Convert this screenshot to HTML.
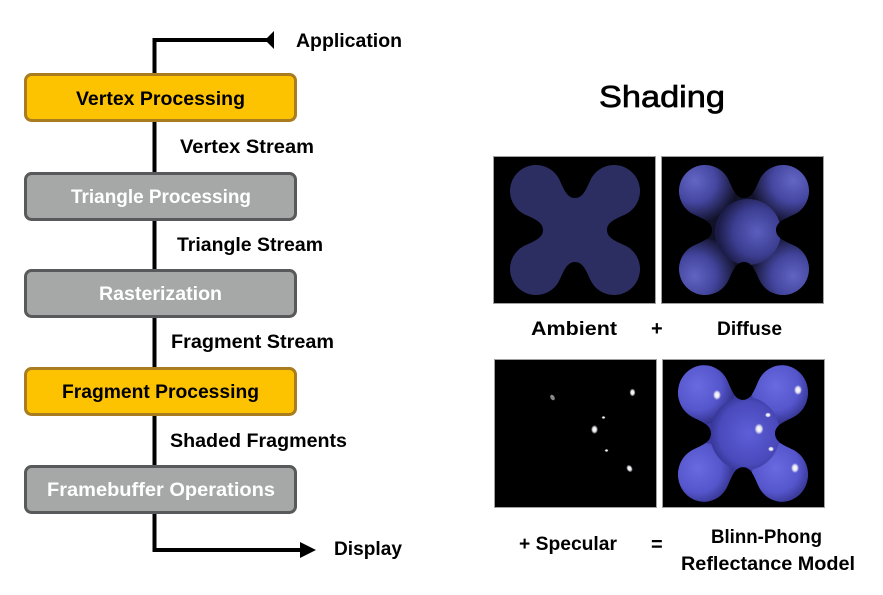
<!DOCTYPE html>
<html>
<head>
<meta charset="utf-8">
<style>
html,body{margin:0;padding:0;background:#fff;}
svg{display:block;}
text{font-family:"Liberation Sans",sans-serif;font-weight:bold;}
</style>
</head>
<body>
<svg width="883" height="595" viewBox="0 0 883 595" xmlns="http://www.w3.org/2000/svg">
<defs>
  <path id="blobp" d="M0,-32 C-8,-32 -11.2,-40.8 -15.4,-49.9 A26,26 0 1 0 -49.9,-15.4 C-40.8,-11.2 -32,-8 -32,0 C-32,8 -40.8,11.2 -49.9,15.4 A26,26 0 1 0 -15.4,49.9 C-11.2,40.8 -8,32 0,32 C8,32 11.2,40.8 15.4,49.9 A26,26 0 1 0 49.9,15.4 C40.8,11.2 32,8 32,0 C32,-8 40.8,-11.2 49.9,-15.4 A26,26 0 1 0 15.4,-49.9 C11.2,-40.8 8,-32 0,-32 Z"/>
  <clipPath id="blobclip"><use href="#blobp"/></clipPath>
  <radialGradient id="dlobeTL" cx="0.33" cy="0.33" r="0.72">
    <stop offset="0" stop-color="#6366c4"/><stop offset="0.5" stop-color="#4446a0"/><stop offset="1" stop-color="#111128"/>
  </radialGradient>
  <radialGradient id="dlobeTR" cx="0.67" cy="0.33" r="0.72">
    <stop offset="0" stop-color="#6366c4"/><stop offset="0.5" stop-color="#4446a0"/><stop offset="1" stop-color="#111128"/>
  </radialGradient>
  <radialGradient id="dlobeBL" cx="0.33" cy="0.62" r="0.72">
    <stop offset="0" stop-color="#6164c2"/><stop offset="0.5" stop-color="#42449c"/><stop offset="1" stop-color="#111128"/>
  </radialGradient>
  <radialGradient id="dlobeBR" cx="0.67" cy="0.62" r="0.72">
    <stop offset="0" stop-color="#6164c2"/><stop offset="0.5" stop-color="#42449c"/><stop offset="1" stop-color="#111128"/>
  </radialGradient>
  <radialGradient id="dcenter" cx="0.64" cy="0.5" r="0.6">
    <stop offset="0" stop-color="#5b5ebd"/><stop offset="0.6" stop-color="#3c3e92"/><stop offset="1" stop-color="#1c1c48"/>
  </radialGradient>
  <radialGradient id="blobe" cx="0.4" cy="0.4" r="0.65">
    <stop offset="0" stop-color="#6a6ae0"/><stop offset="0.6" stop-color="#5555cc"/><stop offset="1" stop-color="#2c2c80"/>
  </radialGradient>
  <radialGradient id="bcenter" cx="0.55" cy="0.5" r="0.6">
    <stop offset="0" stop-color="#5e5ed8"/><stop offset="0.7" stop-color="#4a4abc"/><stop offset="1" stop-color="#2e2e88"/>
  </radialGradient>
  <radialGradient id="spec" cx="0.5" cy="0.5" r="0.5">
    <stop offset="0" stop-color="#ffffff"/><stop offset="0.5" stop-color="#e8e8f0"/><stop offset="1" stop-color="#ffffff" stop-opacity="0"/>
  </radialGradient>
</defs>

<!-- Pipeline connectors -->
<line x1="154.5" y1="38" x2="154.5" y2="552" stroke="#000" stroke-width="4"/>
<line x1="152.5" y1="40" x2="268" y2="40" stroke="#000" stroke-width="4"/>
<polygon points="265,40 274,31 274,49" fill="#000"/>
<line x1="152.5" y1="550" x2="302" y2="550" stroke="#000" stroke-width="4"/>
<polygon points="316,550 300,542 300,558" fill="#000"/>

<!-- Boxes -->
<rect x="25.5" y="74.5" width="270" height="46" rx="6" fill="#fdc300" stroke="#a97d1f" stroke-width="3"/>
<rect x="25.5" y="173.5" width="270" height="46" rx="6" fill="#a6a8a7" stroke="#58595b" stroke-width="3"/>
<rect x="25.5" y="270.5" width="270" height="46" rx="6" fill="#a6a8a7" stroke="#58595b" stroke-width="3"/>
<rect x="25.5" y="368.5" width="270" height="46" rx="6" fill="#fdc300" stroke="#a97d1f" stroke-width="3"/>
<rect x="25.5" y="466.5" width="270" height="46" rx="6" fill="#a6a8a7" stroke="#58595b" stroke-width="3"/>

<g font-size="19">
  <text x="76" y="105" textLength="169" lengthAdjust="spacingAndGlyphs" fill="#000">Vertex Processing</text>
  <text x="71" y="203" textLength="180" lengthAdjust="spacingAndGlyphs" fill="#fff">Triangle Processing</text>
  <text x="99" y="300" textLength="123" lengthAdjust="spacingAndGlyphs" fill="#fff">Rasterization</text>
  <text x="62" y="398" textLength="197" lengthAdjust="spacingAndGlyphs" fill="#000">Fragment Processing</text>
  <text x="47" y="496" textLength="228" lengthAdjust="spacingAndGlyphs" fill="#fff">Framebuffer Operations</text>

  <text x="296" y="47" textLength="106" lengthAdjust="spacingAndGlyphs">Application</text>
  <text x="180" y="153" textLength="134" lengthAdjust="spacingAndGlyphs">Vertex Stream</text>
  <text x="177" y="251" textLength="146" lengthAdjust="spacingAndGlyphs">Triangle Stream</text>
  <text x="171" y="348" textLength="163" lengthAdjust="spacingAndGlyphs">Fragment Stream</text>
  <text x="170" y="447" textLength="177" lengthAdjust="spacingAndGlyphs">Shaded Fragments</text>
  <text x="334" y="555" textLength="68" lengthAdjust="spacingAndGlyphs">Display</text>
</g>

<!-- Shading title -->
<text x="599" y="107" font-size="31" style="font-weight:normal" textLength="126" lengthAdjust="spacingAndGlyphs" fill="#000" stroke="#000" stroke-width="0.7">Shading</text>

<!-- Image frames -->
<rect x="493.5" y="156.5" width="162" height="147" fill="#000" stroke="#a0a0a0" stroke-width="1"/>
<rect x="661.5" y="156.5" width="162" height="147" fill="#000" stroke="#a0a0a0" stroke-width="1"/>
<rect x="494.5" y="359.5" width="162" height="148" fill="#000" stroke="#a0a0a0" stroke-width="1"/>
<rect x="662.5" y="359.5" width="162" height="148" fill="#000" stroke="#a0a0a0" stroke-width="1"/>

<!-- Ambient -->
<g transform="translate(575,230)">
  <use href="#blobp" fill="#2c2d60"/>
</g>

<!-- Diffuse -->
<g transform="translate(744,230)">
  <g clip-path="url(#blobclip)">
    <use href="#blobp" fill="#111128"/>
    <circle cx="-39" cy="-39" r="30" fill="url(#dlobeTL)"/>
    <circle cx="39" cy="-39" r="30" fill="url(#dlobeTR)"/>
    <circle cx="-39" cy="39" r="30" fill="url(#dlobeBL)"/>
    <circle cx="39" cy="39" r="30" fill="url(#dlobeBR)"/>
    <circle cx="4" cy="2" r="33" fill="url(#dcenter)"/>
  </g>
</g>

<!-- Specular -->
<g transform="translate(575.5,433.5)">
  <ellipse cx="-23" cy="-36" rx="2" ry="3" fill="#888" transform="rotate(-30 -23 -36)"/>
  <ellipse cx="57" cy="-41" rx="3" ry="4" fill="url(#spec)"/>
  <ellipse cx="28" cy="-16" rx="2" ry="1.5" fill="url(#spec)"/>
  <ellipse cx="19" cy="-4" rx="3.5" ry="4.5" fill="url(#spec)"/>
  <ellipse cx="31" cy="17" rx="2" ry="1.5" fill="url(#spec)"/>
  <ellipse cx="54" cy="35" rx="3" ry="4" fill="url(#spec)" transform="rotate(-30 54 35)"/>
</g>

<!-- Blinn-Phong -->
<g transform="translate(743,433.5) scale(1,1.05)">
  <g clip-path="url(#blobclip)">
    <use href="#blobp" fill="#3a3aa4"/>
    <circle cx="-39" cy="-39" r="30" fill="url(#blobe)"/>
    <circle cx="39" cy="-39" r="30" fill="url(#blobe)"/>
    <circle cx="-39" cy="39" r="30" fill="url(#blobe)"/>
    <circle cx="39" cy="39" r="30" fill="url(#blobe)"/>
    <circle cx="2" cy="0" r="35" fill="url(#bcenter)"/>
  </g>
</g>
<g>
  <ellipse cx="717" cy="395" rx="4" ry="5" fill="url(#spec)"/>
  <ellipse cx="798" cy="390" rx="4" ry="5" fill="url(#spec)"/>
  <ellipse cx="768" cy="415" rx="3" ry="2.5" fill="url(#spec)"/>
  <ellipse cx="759" cy="429" rx="4.5" ry="5.5" fill="url(#spec)"/>
  <ellipse cx="771" cy="449" rx="3" ry="2.5" fill="url(#spec)"/>
  <ellipse cx="795" cy="468" rx="4" ry="5" fill="url(#spec)"/>
</g>

<!-- Right labels -->
<g font-size="19">
  <text x="531" y="335" textLength="86" lengthAdjust="spacingAndGlyphs">Ambient</text>
  <text x="651" y="335" font-size="20">+</text>
  <text x="717" y="335" textLength="65" lengthAdjust="spacingAndGlyphs">Diffuse</text>
  <text x="519" y="550" textLength="98" lengthAdjust="spacingAndGlyphs">+ Specular</text>
  <text x="651" y="551" font-size="20">=</text>
  <text x="711" y="543" textLength="111" lengthAdjust="spacingAndGlyphs">Blinn-Phong</text>
  <text x="681" y="570" textLength="174" lengthAdjust="spacingAndGlyphs">Reflectance Model</text>
</g>
</svg>
</body>
</html>
